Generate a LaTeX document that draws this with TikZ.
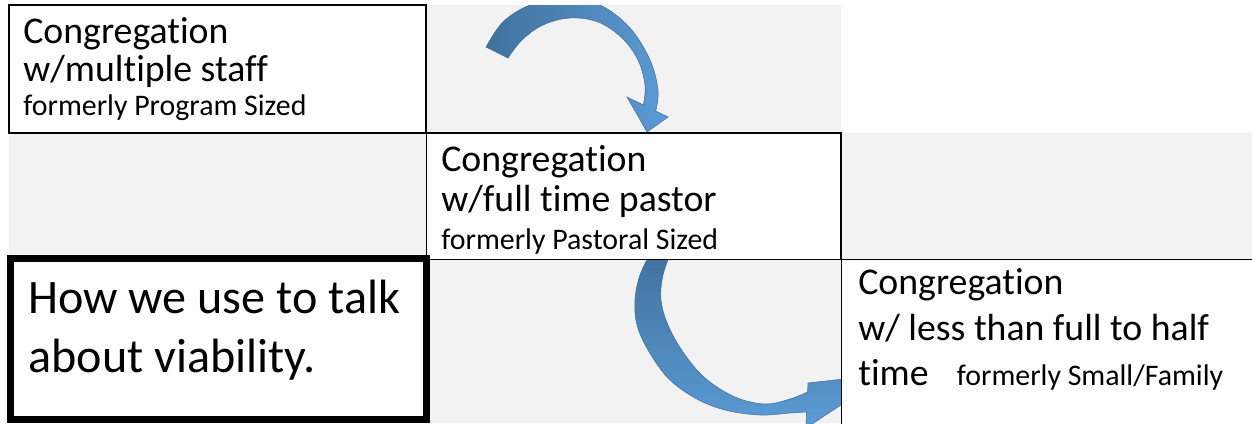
\documentclass[tikz,border=0pt]{standalone}
\usepackage{fontspec}
\setmainfont{Carlito}[Ligatures=NoCommon]
\usetikzlibrary{positioning}

\definecolor{cellgray}{HTML}{F2F2F2}
\definecolor{arrowdark}{HTML}{41719C}
\definecolor{arrowlight}{HTML}{5B9BD5}
\newcommand{\bigtext}{\fontsize{21.5pt}{26pt}\selectfont}
\newcommand{\smalltext}{\fontsize{17pt}{20pt}\selectfont}
\newcommand{\hugetext}{\fontsize{27.4pt}{32pt}\selectfont}

\tikzset{
  cell/.style={draw=black, fill=white, line width=1.1pt, anchor=north west, inner sep=0pt, outer sep=0pt},
  celltext/.style={anchor=base west, inner sep=0pt, font=\bigtext},
  note/.style={anchor=base west, inner sep=0pt, font=\smalltext},
  bluearrow/.style={draw=arrowdark, line width=0.3pt}
}

\begin{document}
\begin{tikzpicture}[x=0.02cm, y=-0.02cm]
\useasboundingbox[fill=white] (0,0) rectangle (1252,423);
% grey cells
\fill[cellgray] (427,5) rectangle (841,133);
\fill[cellgray] (9,133) rectangle (427,260);
\fill[cellgray] (841,133) rectangle (1252,260);
\fill[cellgray] (427,260) rectangle (841,423);
% upper arrow
\begin{scope}
\clip (427,5) rectangle (841,140);
\shadedraw[bluearrow, left color=arrowdark, right color=arrowlight]
  plot[smooth, tension=0.6] coordinates {(486,47) (503,22) (530,5) (565,-2) (600,5) (630,28) (650,60) (658,90) (655.7,111)}
  -- (668,117) -- (647,132) -- (627,97) -- (643.4,105)
  -- plot[smooth, tension=0.6] coordinates {(643.4,105) (645,85) (638,60) (622,38) (598,22) (570,18) (543,25) (522,40) (508,58)}
  -- cycle;
\end{scope}
% lower arrow
\begin{scope}
\clip (427,260) rectangle (841,423);
\shadedraw[bluearrow, top color=arrowdark, bottom color=arrowlight]
  plot[smooth, tension=0.6] coordinates {(652,250) (640,275) (635,300) (637,325) (648,350) (668,378) (695,398) (725,410) (760,415) (790,413) (806.5,412)}
  -- (806,428) -- (888,374) -- (808,383) -- (807.6,392)
  -- plot[smooth, tension=0.6] coordinates {(807.6,392) (790,399) (765,404) (735,397) (705,378) (683,352) (668,325) (661,300) (663,275) (672,250)}
  -- cycle;
\end{scope}
% boxes
\node[cell, minimum width=8.35cm, minimum height=2.56cm] (staffcell) at (9,5) {};
\node[cell, minimum width=8.3cm, minimum height=2.53cm] (pastorcell) at (426.5,133) {};
\node[cell, minimum width=8.5cm, minimum height=3.6cm] (smallcell) at (841.5,259.5) {};
\node[cell, line width=4pt, minimum width=8.32cm, minimum height=3.23cm] (viabilitycell) at (10.5,258.5) {};
% texts
\node[celltext] (staffhead) at (23,43.5) {Congregation};
\node[celltext] (staffsub) at (23,81) {w/multiple staff};
\node[note] (staffnote) at (23,115) {formerly Program Sized};
\node[celltext] (pastorhead) at (441,171.5) {Congregation};
\node[celltext] (pastorsub) at (441,211.5) {w/full time pastor};
\node[note] (pastornote) at (441,249.5) {formerly Pastoral Sized};
\node[celltext, font=\hugetext] (viabilityone) at (28,313) {How we use to talk};
\node[celltext, font=\hugetext] (viabilitytwo) at (28,372) {about viability.};
\node[celltext] (smallhead) at (858,294.5) {Congregation};
\node[celltext] (smallsub) at (858,340) {w/ less than full to half};
\node[celltext] (smalltime) at (858,385) {time};
\node[note, right=0.55cm of smalltime.base east, anchor=base west] (smallnote) {formerly Small/Family};
\end{tikzpicture}
\end{document}
